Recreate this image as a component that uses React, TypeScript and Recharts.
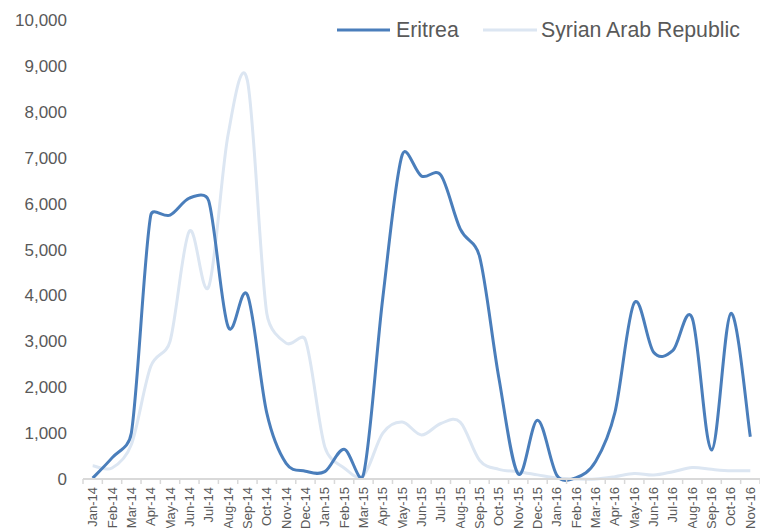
import React from 'react';
import { LineChart, Line, XAxis, YAxis, Legend } from 'recharts';

const months = [
  'Jan-14', 'Feb-14', 'Mar-14', 'Apr-14', 'May-14', 'Jun-14', 'Jul-14', 'Aug-14', 'Sep-14', 'Oct-14', 'Nov-14', 'Dec-14',
  'Jan-15', 'Feb-15', 'Mar-15', 'Apr-15', 'May-15', 'Jun-15', 'Jul-15', 'Aug-15', 'Sep-15', 'Oct-15', 'Nov-15', 'Dec-15',
  'Jan-16', 'Feb-16', 'Mar-16', 'Apr-16', 'May-16', 'Jun-16', 'Jul-16', 'Aug-16', 'Sep-16', 'Oct-16', 'Nov-16',
];

const eritrea = [
  20, 460, 1000, 5740, 5750, 6120, 6060, 3320, 4010, 1440, 340, 170,
  160, 650, 100, 3950, 7060, 6600, 6620, 5450, 4850, 2200, 110, 1280,
  80, 30, 380, 1450, 3840, 2760, 2800, 3500, 630, 3610, 920,
];

const syria = [
  290, 240, 750, 2450, 3000, 5400, 4190, 7500, 8680, 3610, 2960, 3030,
  700, 240, 80, 1000, 1240, 960, 1210, 1240, 410, 210, 160, 90,
  20, 0, 0, 50, 120, 85, 160, 250, 210, 180, 180,
];

const yTicks = [0, 1000, 2000, 3000, 4000, 5000, 6000, 7000, 8000, 9000, 10000];

const data = months.map((m, i) => ({ month: m, Eritrea: eritrea[i], Syria: syria[i] }));

const ERITREA_COLOR = '#4A7EBB';
const SYRIA_COLOR = '#DCE6F2';
const TEXT_COLOR = '#595959';
const FONT = '"Liberation Sans", Arial, sans-serif';

const dist = (a: number[], b: number[]) => Math.hypot(a[0] - b[0], a[1] - b[1]);

// Excel-like smoothing: Bezier with tangent 1/6, limited to half of the segment length
const excelCurve = (context: any) => {
  let pts: number[][] = [];
  return {
    areaStart() {},
    areaEnd() {},
    lineStart() {
      pts = [];
    },
    point(x: number, y: number) {
      pts.push([+x, +y]);
    },
    lineEnd() {
      if (!pts.length) return;
      context.moveTo(pts[0][0], pts[0][1]);
      for (let i = 0; i < pts.length - 1; i++) {
        const p0 = pts[i - 1] || pts[i];
        const p1 = pts[i];
        const p2 = pts[i + 1];
        const p3 = pts[i + 2] || pts[i + 1];
        const d12 = dist(p1, p2);
        const d02 = dist(p0, p2);
        const d13 = dist(p1, p3);
        let f = 1 / 6;
        if (d02 > 0 && d02 / 6 >= d12 / 2) f = d12 / (2 * d02);
        let g = 1 / 6;
        if (d13 > 0 && d13 / 6 >= d12 / 2) g = d12 / (2 * d13);
        context.bezierCurveTo(
          p1[0] + (p2[0] - p0[0]) * f,
          p1[1] + (p2[1] - p0[1]) * f,
          p2[0] - (p3[0] - p1[0]) * g,
          p2[1] - (p3[1] - p1[1]) * g,
          p2[0],
          p2[1]
        );
      }
    },
  };
};

const HALF = 677 / months.length / 2;

const XTick = (props: any) => {
  const { x, y, payload, index } = props;
  return (
    <g>
      <line x1={x - HALF} x2={x - HALF} y1={y} y2={y + 5} stroke="#D9D9D9" strokeWidth={1.5} />
      {index === months.length - 1 && (
        <line x1={x + HALF} x2={x + HALF} y1={y} y2={y + 5} stroke="#D9D9D9" strokeWidth={1.5} />
      )}
      <text
        x={x + 4.5}
        y={y + 8}
        transform={`rotate(-90, ${x + 4.5}, ${y + 8})`}
        textAnchor="end"
        fontSize={13}
        fontFamily={FONT}
        fill={TEXT_COLOR}
      >
        {payload.value}
      </text>
    </g>
  );
};

const LegendContent = () => (
  <div style={{ position: 'relative', height: 30, fontFamily: FONT, fontSize: 21.3, color: TEXT_COLOR }}>
    <svg width={60} height={30} style={{ position: 'absolute', left: 0, top: 0 }}>
      <line x1={0} x2={53} y1={14} y2={14} stroke={ERITREA_COLOR} strokeWidth={3} />
    </svg>
    <span style={{ position: 'absolute', left: 59, top: 1, lineHeight: '26px', whiteSpace: 'nowrap' }}>Eritrea</span>
    <svg width={60} height={30} style={{ position: 'absolute', left: 146, top: 0 }}>
      <line x1={0} x2={54} y1={14} y2={14} stroke={SYRIA_COLOR} strokeWidth={3} />
    </svg>
    <span style={{ position: 'absolute', left: 204, top: 1, lineHeight: '26px', whiteSpace: 'nowrap' }}>
      Syrian Arab Republic
    </span>
  </div>
);

export default function App() {
  return (
    <div style={{ position: 'absolute', left: 0, top: 0, width: 760, height: 528, background: '#fff' }}>
      <LineChart width={760} height={528} data={data} margin={{ top: 20, right: 0, left: 0, bottom: 0 }}>
        <XAxis
          dataKey="month"
          interval={0}
          height={49}
          padding={{ left: HALF, right: HALF }}
          axisLine={{ stroke: '#D9D9D9', strokeWidth: 2 }}
          tickLine={false}
          tickSize={0}
          tickMargin={0}
          tick={<XTick />}
        />
        <YAxis
          width={83}
          domain={[0, 10000]}
          ticks={yTicks}
          axisLine={false}
          tickLine={false}
          tickSize={0}
          tickMargin={16}
          tick={{ fontSize: 17, fontFamily: FONT, fill: TEXT_COLOR }}
          tickFormatter={(v: number) => v.toLocaleString('en-US')}
        />
        <Legend
          layout="horizontal"
          verticalAlign="middle"
          align="center"
          content={<LegendContent />}
          wrapperStyle={{ top: 16, left: 337, width: 423, height: 30, right: 'auto', bottom: 'auto' }}
        />
        <Line
          dataKey="Syria"
          name="Syrian Arab Republic"
          type={excelCurve as any}
          stroke={SYRIA_COLOR}
          strokeWidth={3}
          dot={false}
          activeDot={false}
          isAnimationActive={false}
        />
        <Line
          dataKey="Eritrea"
          name="Eritrea"
          type={excelCurve as any}
          stroke={ERITREA_COLOR}
          strokeWidth={3}
          dot={false}
          activeDot={false}
          isAnimationActive={false}
        />
      </LineChart>
    </div>
  );
}
